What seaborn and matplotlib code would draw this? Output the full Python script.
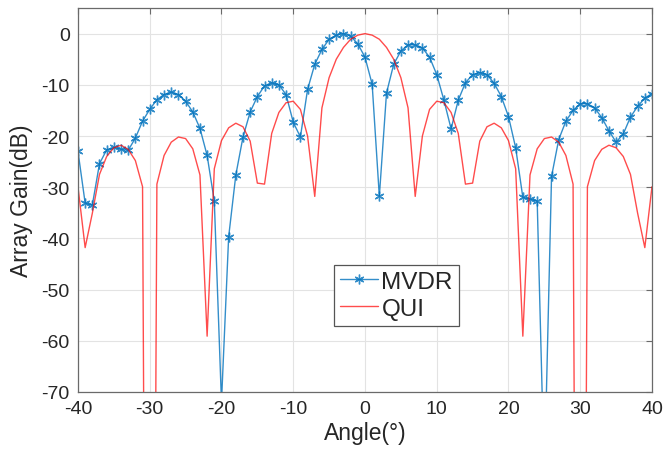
import numpy as np
import pandas as pd
import matplotlib
matplotlib.use("Agg")
import matplotlib.pyplot as plt
import seaborn as sns

angles = list(range(-40, 41))

mvdr = [-23.0, -33.1, -33.5, -25.4, -22.7, -22.2, -22.6, -22.8, -20.4, -17.1,
        -14.8, -12.9, -11.9, -11.4, -11.9, -13.2, -15.3, -18.5, -23.8, -32.7,
        -72.0, -39.7, -27.6, -20.2, -15.3, -12.3, -10.2, -9.6, -10.0, -11.9,
        -17.3, -20.2, -10.9, -6.0, -3.1, -1.1, -0.3, 0.0, -0.5, -2.0,
        -4.6,
        -9.9, -31.8, -11.6, -6.0, -3.4, -2.2, -2.2, -2.8, -4.6, -8.0,
        -13.0, -18.6, -13.0, -9.6, -8.0, -7.6, -8.0, -9.7, -12.3, -16.2,
        -22.3, -32.0, -32.3, -32.7, -87.0, -27.9, -20.7, -17.1, -15.0, -13.7,
        -13.7, -14.5, -16.4, -19.0, -21.2, -19.6, -16.3, -14.2, -12.6, -11.7]

# QUI, one side (0..40 deg), pattern is symmetric
qui_half = [0.0, -0.3, -1.1, -2.7, -5.0, -8.6, -14.5, -31.8, -20.0, -14.8,
            -13.2, -13.5, -15.4, -19.5, -29.4, -29.2, -21.0, -18.2, -17.5, -18.4,
            -20.9, -26.4, -59.1, -27.6, -22.5, -20.5, -20.2, -21.2, -23.8, -29.4,
            -300.0, -29.9, -24.8, -22.6, -21.8, -22.3, -24.0, -27.5, -35.1, -41.8,
            -29.9]
qui = qui_half[:0:-1] + qui_half

xticks = [-40, -30, -20, -10, 0, 10, 20, 30, 40]
yticks = [-70, -60, -50, -40, -30, -20, -10, 0]

sns.set_theme(style="white")
plt.rcParams['font.family'] = ['Liberation Sans', 'DejaVu Sans']
plt.rcParams['axes.unicode_minus'] = False

df_m = pd.DataFrame({"Angle": angles, "Gain": mvdr})
df_q = pd.DataFrame({"Angle": angles, "Gain": qui})

fig = plt.figure(figsize=(6.63, 4.60), dpi=100)
ax = fig.add_axes([0.1176, 0.1457, 0.9834 - 0.1176, 0.9804 - 0.1457])

sns.lineplot(data=df_m, x="Angle", y="Gain", ax=ax, color="#0072BD", lw=1.0,
             marker=(6, 2, 0), markersize=7, markeredgewidth=1.0,
             markeredgecolor="#0072BD", label="MVDR", alpha=0.8)
sns.lineplot(data=df_q, x="Angle", y="Gain", ax=ax, color="#FF0000", lw=1.0,
             label="QUI", alpha=0.7)

ax.set_xlim(-40, 40)
ax.set_ylim(-70, 5)
ax.set_xticks(xticks)
ax.set_yticks(yticks)
ax.grid(True, color="#e3e3e3", lw=0.8)
ax.set_axisbelow(True)
for s in ax.spines.values():
    s.set_color("#6a6a6a")
    s.set_linewidth(0.9)
ax.tick_params(direction="in", length=4, width=0.8, color="#6a6a6a",
               top=True, right=True, labelsize=14, labelcolor="#262626", pad=6)
ax.set_xlabel("Angle(°)", fontsize=16.5, color="#262626", labelpad=3)
ax.set_ylabel("Array Gain(dB)", fontsize=16.5, color="#262626", labelpad=6)

leg = ax.legend(loc="lower left", bbox_to_anchor=(0.446, 0.172), fontsize=17.5,
                handlelength=1.55, handletextpad=0.15, borderpad=0.25,
                labelspacing=0.2, fancybox=False, framealpha=1, borderaxespad=0)
leg.get_frame().set_edgecolor("#555555")
leg.get_frame().set_linewidth(0.9)

fig.savefig("out.png", dpi=100)
